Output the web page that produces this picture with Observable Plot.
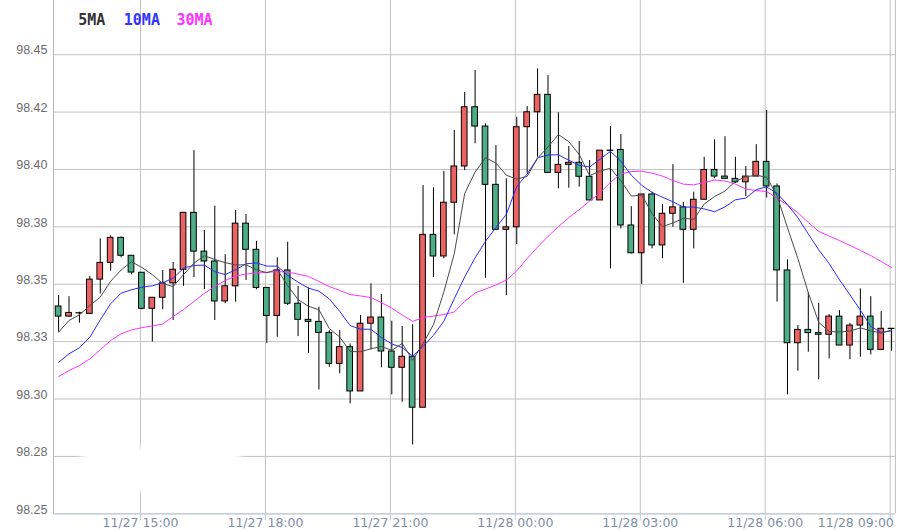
<!DOCTYPE html>
<html><head><meta charset="utf-8">
<script src="https://cdn.jsdelivr.net/npm/d3@7"></script>
<script src="https://cdn.jsdelivr.net/npm/@observablehq/plot@0.6"></script>
<style>
html,body{margin:0;padding:0;background:#fff;}
#wrap{position:relative;width:905px;height:532px;overflow:hidden;}
#wrap svg{display:block;}
#blob{position:absolute;left:80px;top:447px;width:162px;height:45px;background:#fff;filter:blur(3px);border-radius:16px;}
</style></head><body><div id="wrap"></div>
<script>
// ---- data (15-minute candles, 11/27 13:00 .. 11/28 09:00) ----
const startTime = "2023-11-27T13:00Z";
const intervalMinutes = 15;

const open = [98.3403,98.3359,98.3374,98.3371,98.3520,98.3593,98.3702,98.3624,98.3550,98.3393,
98.3441,98.3504,98.3563,98.3811,98.3642,98.3599,98.3425,98.3491,98.3764,98.3650,
98.3484,98.3362,98.3560,98.3415,98.3345,98.3336,98.3288,98.3153,98.3226,98.3033,
98.3328,98.3355,98.3207,98.3136,98.3184,98.2962,98.3715,98.3621,98.3855,98.4013,
98.4271,98.4187,98.3933,98.3737,98.3748,98.4184,98.4249,98.4325,98.3985,98.4020,
98.4029,98.3968,98.3865,98.4082,98.4085,98.3756,98.3635,98.3891,98.3669,98.3807,
98.3835,98.3737,98.3868,98.3998,98.3969,98.3959,98.3944,98.3969,98.4033,98.3926,
98.3560,98.3243,98.3301,98.3287,98.3280,98.3359,98.3233,98.3320,98.3359,98.3214,
98.3306];

const high = [98.3451,98.3446,98.3378,98.3534,98.3698,98.3711,98.3706,98.3624,98.3550,98.3441,
98.3560,98.3595,98.3811,98.4082,98.3734,98.3840,98.3629,98.3821,98.3804,98.3687,
98.3484,98.3615,98.3683,98.3490,98.3484,98.3400,98.3298,98.3298,98.3240,98.3364,
98.3502,98.3455,98.3339,98.3316,98.3324,98.3930,98.3920,98.3991,98.4170,98.4335,
98.4431,98.4199,98.4104,98.3959,98.4227,98.4274,98.4438,98.4409,98.4247,98.4100,
98.4122,98.4039,98.4082,98.4187,98.4152,98.3838,98.3891,98.3901,98.3847,98.4021,
98.3857,98.3901,98.4053,98.4129,98.4143,98.4053,98.4013,98.4108,98.4257,98.3937,
98.3606,98.3320,98.3463,98.3417,98.3368,98.3385,98.3330,98.3480,98.3446,98.3381,
98.3306];

const low = [98.3291,98.3355,98.3330,98.3371,98.3458,98.3557,98.3615,98.3541,98.3389,98.3248,
98.3389,98.3342,98.3491,98.3529,98.3476,98.3342,98.3415,98.3422,98.3516,98.3476,
98.3243,98.3269,98.3407,98.3272,98.3199,98.3040,98.3138,98.3110,98.2979,98.3033,
98.3214,98.3136,98.3018,98.2986,98.2800,98.2962,98.3529,98.3611,98.3715,98.3995,
98.4112,98.3526,98.3737,98.3450,98.3673,98.3981,98.4053,98.3985,98.3916,98.3918,
98.3923,98.3865,98.3865,98.3567,98.3741,98.3632,98.3499,98.3654,98.3611,98.3748,
98.3504,98.3654,98.3868,98.3959,98.3959,98.3939,98.3882,98.3969,98.3876,98.3422,
98.3018,98.3121,98.3204,98.3084,98.3175,98.3233,98.3171,98.3182,98.3192,98.3214,
98.3208];

const close = [98.3359,98.3375,98.3373,98.3520,98.3593,98.3702,98.3624,98.3551,98.3393,98.3441,
98.3504,98.3563,98.3811,98.3642,98.3599,98.3425,98.3491,98.3764,98.3650,98.3484,
98.3362,98.3560,98.3415,98.3345,98.3336,98.3288,98.3153,98.3226,98.3033,98.3328,
98.3355,98.3207,98.3136,98.3184,98.2962,98.3715,98.3621,98.3855,98.4013,98.4271,
98.4187,98.3933,98.3737,98.3748,98.4184,98.4249,98.4325,98.3985,98.4020,98.4029,
98.3968,98.3865,98.4082,98.4081,98.3756,98.3635,98.3891,98.3669,98.3807,98.3835,
98.3737,98.3868,98.3998,98.3969,98.3959,98.3944,98.3969,98.4033,98.3926,98.3560,
98.3243,98.3301,98.3287,98.3280,98.3359,98.3233,98.3320,98.3359,98.3214,98.3306,
98.3305];

const ma5 = [98.3291,98.3342,98.3367,98.3407,98.3444,98.3513,98.3562,98.3598,98.3573,98.3542,
98.3503,98.3490,98.3542,98.3592,98.3624,98.3608,98.3594,98.3584,98.3585,98.3563,
98.3550,98.3564,98.3494,98.3433,98.3404,98.3389,98.3307,98.3270,98.3207,98.3206,
98.3219,98.3229,98.3212,98.3242,98.3169,98.3241,98.3324,98.3467,98.3633,98.3895,
98.3989,98.4051,98.4028,98.3975,98.3958,98.3970,98.4049,98.4098,98.4152,98.4121,
98.4065,98.3973,98.3993,98.4005,98.3951,98.3884,98.3889,98.3807,98.3751,98.3767,
98.3787,98.3783,98.3849,98.3882,98.3906,98.3948,98.3968,98.3975,98.3966,98.3886,
98.3746,98.3612,98.3463,98.3334,98.3294,98.3292,98.3296,98.3310,98.3297,98.3287,
98.3301];

const ma10 = [98.3160,98.3197,98.3223,98.3269,98.3345,98.3415,98.3461,98.3476,98.3487,98.3493,
98.3507,98.3526,98.3570,98.3582,98.3583,98.3555,98.3542,98.3563,98.3589,98.3593,
98.3579,98.3579,98.3539,98.3509,98.3483,98.3470,98.3436,98.3382,98.3320,98.3304,
98.3304,98.3268,98.3240,98.3224,98.3187,98.3229,98.3277,98.3339,98.3437,98.3532,
98.3615,98.3687,98.3747,98.3804,98.3926,98.3980,98.4050,98.4063,98.4064,98.4040,
98.4018,98.4011,98.4045,98.4079,98.4036,98.3975,98.3931,98.3900,98.3879,98.3859,
98.3836,98.3836,98.3828,98.3816,98.3837,98.3868,98.3875,98.3912,98.3924,98.3896,
98.3847,98.3790,98.3719,98.3650,98.3590,98.3519,98.3454,98.3387,98.3316,98.3290,
98.3297];

const ma30 = [98.3098,98.3124,98.3146,98.3175,98.3214,98.3255,98.3284,98.3301,98.3311,98.3318,
98.3327,98.3359,98.3390,98.3425,98.3460,98.3490,98.3516,98.3536,98.3544,98.3549,
98.3552,98.3555,98.3553,98.3544,98.3534,98.3512,98.3490,98.3473,98.3455,98.3449,
98.3442,98.3420,98.3396,98.3366,98.3338,98.3355,98.3361,98.3368,98.3379,98.3425,
98.3462,98.3479,98.3497,98.3518,98.3558,98.3612,98.3662,98.3708,98.3751,98.3790,
98.3825,98.3862,98.3899,98.3944,98.3981,98.3991,98.3992,98.3984,98.3971,98.3952,
98.3936,98.3933,98.3943,98.3954,98.3950,98.3936,98.3915,98.3908,98.3904,98.3875,
98.3845,98.3812,98.3769,98.3730,98.3710,98.3690,98.3669,98.3647,98.3625,98.3599,
98.3573];

const yDomain = [98.25, 98.4736];
const yTicks = [98.25, 98.275, 98.3, 98.325, 98.35, 98.375, 98.4, 98.425, 98.45];
const yTickLabels = ["98.25","98.28","98.30","98.33","98.35","98.38","98.40","98.42","98.45"];
const xDomain = ["2023-11-27T12:54:40Z", "2023-11-28T09:07:38Z"];
const xTicks = ["2023-11-27T15:00Z","2023-11-27T18:00Z","2023-11-27T21:00Z","2023-11-28T00:00Z",
                "2023-11-28T03:00Z","2023-11-28T06:00Z","2023-11-28T09:00Z"];
const xTickLabels = ["11/27 15:00","11/27 18:00","11/27 21:00","11/28 00:00","11/28 03:00","11/28 06:00","11/28 09:00"];
const legendNames = ["5MA","10MA","30MA"];
const legendColors = ["#333333","#3333ff","#ff33ff"];

// ---- build ----
const t0 = new Date(startTime);
const data = open.map((o, i) => ({
  t: new Date(+t0 + i * intervalMinutes * 60000),
  open: o, high: high[i], low: low[i], close: close[i],
  ma5: ma5[i], ma10: ma10[i], ma30: ma30[i]
}));
const xT = xTicks.map(s => new Date(s));
const xLab = new Map(xT.map((d, i) => [+d, xTickLabels[i]]));
const yLab = new Map(yTicks.map((v, i) => [v, yTickLabels[i]]));
const xDom = xDomain.map(s => new Date(s));

const UP = "#eb6262", DOWN = "#4dad86";
const half = 4.1 * 60000;
const shift = 1.4;
const gridColor = "#c2c2c2";
const legendOffsets = [24.7, 70.3, 123];

const chart = Plot.plot({
  width: 905, height: 532,
  marginLeft: 53, marginRight: 10, marginTop: 0, marginBottom: 18.7,
  style: {background: "#fff", fontFamily: "Liberation Sans", overflow: "hidden"},
  x: {type: "utc", domain: xDom},
  y: {domain: yDomain},
  marks: [
    Plot.gridY(yTicks, {stroke: gridColor, strokeOpacity: 1}),
    Plot.gridX(xT, {stroke: gridColor, strokeOpacity: 1}),
    Plot.ruleX([xDom[0]], {stroke: "#b8b8b8"}),
    Plot.ruleX([xDom[1]], {stroke: gridColor}),
    Plot.ruleY([yDomain[0]], {stroke: "#bccbdc"}),
    Plot.axisY(yTicks, {tickFormat: d => yLab.get(d), tickSize: 0, tickPadding: 6, dy: -4.3,
      fontSize: 12.5, fontFamily: "Liberation Sans", color: "#6b6b6b", label: null}),
    Plot.axisX(xT, {tickFormat: d => (+d === +xT[xT.length - 1] ? "" : xLab.get(+d)), tickSize: 7, tickPadding: -2.3,
      stroke: "#bccbdc", fill: "#7d8ea6", fontSize: 12.5, fontFamily: "DejaVu Sans", label: null}),
    Plot.axisX([xT[xT.length - 1]], {tickFormat: d => xLab.get(+d), tickSize: 0, tickPadding: 4.7,
      textAnchor: "end", dx: 3.6, fill: "#7d8ea6", fontSize: 12.5, fontFamily: "DejaVu Sans", label: null}),
    Plot.ruleX(data, {x: "t", y1: "low", y2: "high", stroke: "#000", strokeWidth: 1, dx: shift}),
    Plot.rect(data, {
      x1: d => new Date(+d.t - half), x2: d => new Date(+d.t + half),
      y1: "open", y2: "close",
      fill: d => d.close > d.open ? UP : DOWN,
      stroke: "#000", strokeWidth: 1, dx: shift
    }),
    Plot.line(data, {x: "t", y: "ma30", stroke: "#ff33ff", strokeWidth: 1, dx: shift}),
    Plot.line(data, {x: "t", y: "ma10", stroke: "#2a2aff", strokeWidth: 1, dx: shift}),
    Plot.line(data, {x: "t", y: "ma5", stroke: "#4a4a4a", strokeWidth: 1, dx: shift}),
    ...legendNames.map((name, i) => Plot.text([name], {
      frameAnchor: "top-left", lineAnchor: "middle", text: d => d,
      dx: legendOffsets[i], dy: 20, textAnchor: "start",
      fill: legendColors[i], fontSize: 15, fontWeight: "bold", fontFamily: "DejaVu Sans Mono"
    }))
  ]
});
const wrap = document.getElementById("wrap");
wrap.appendChild(chart);
const blob = document.createElement("div");
blob.id = "blob";
wrap.appendChild(blob);
</script></body></html>
